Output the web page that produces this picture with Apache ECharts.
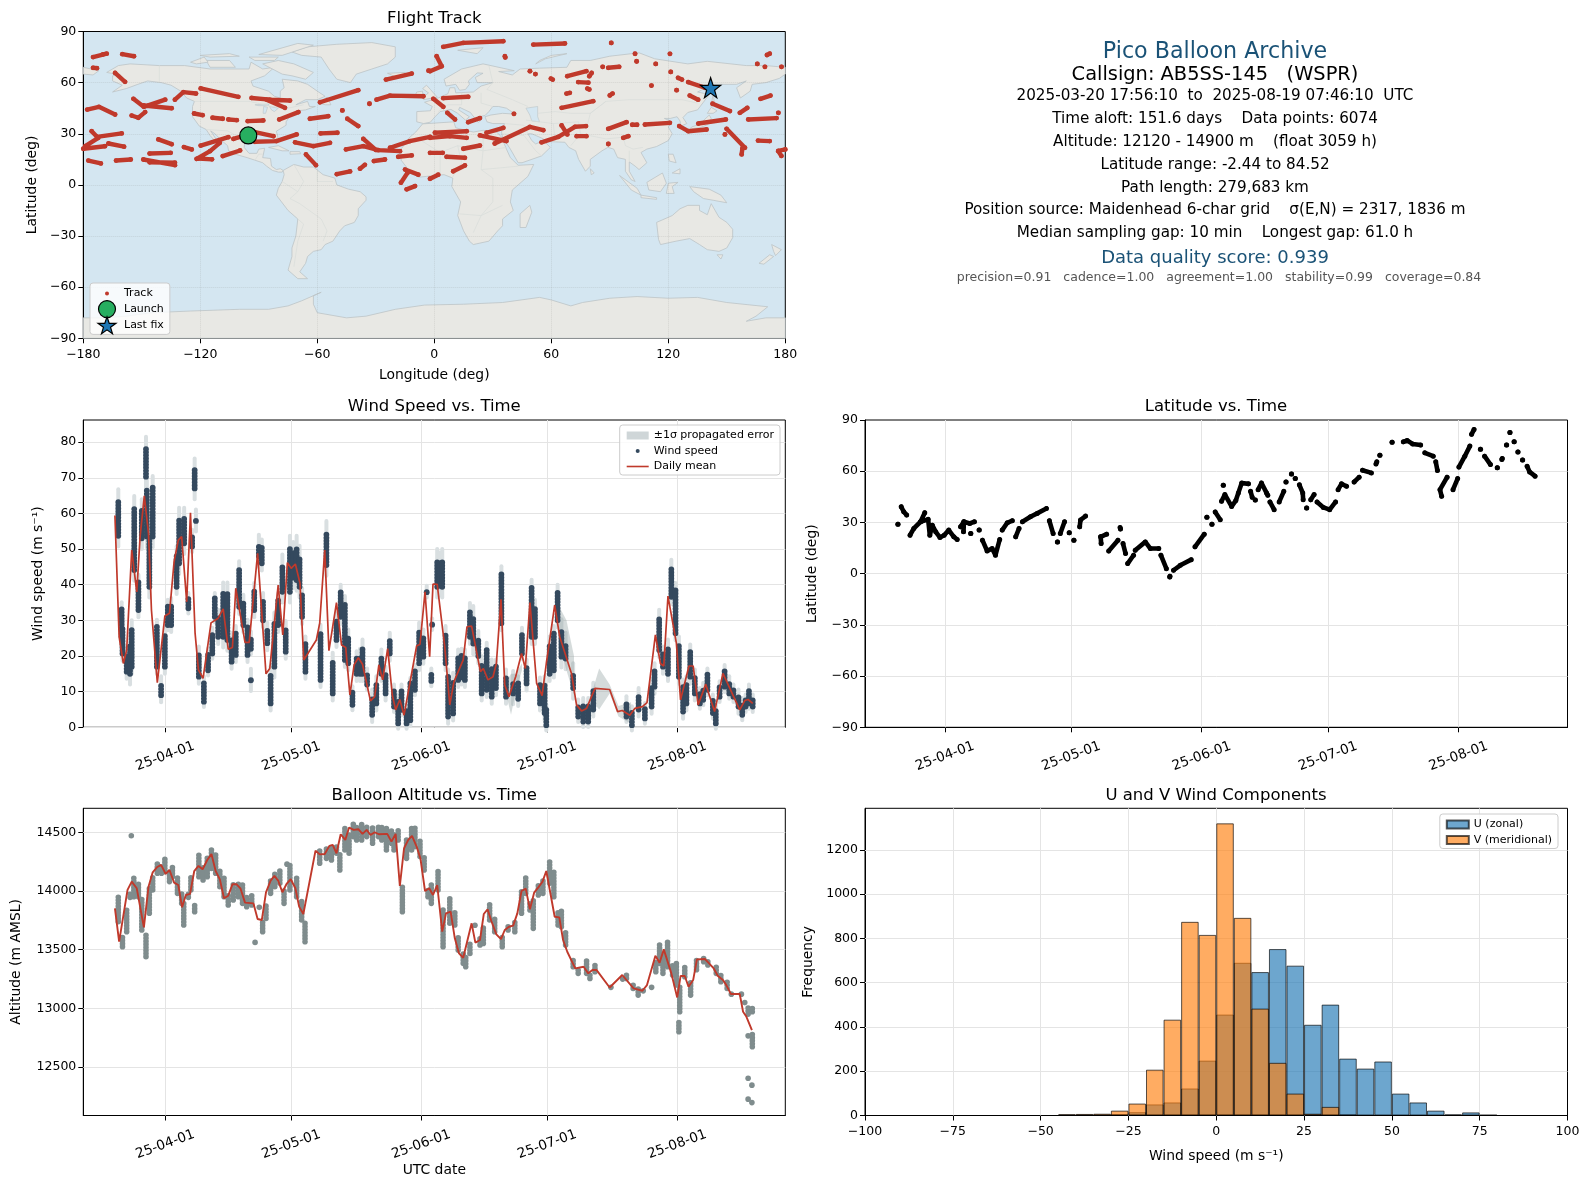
<!DOCTYPE html>
<html><head><meta charset="utf-8">
<style>html,body{margin:0;padding:0;background:#fff}#c{width:1589px;height:1189px}</style>
<script src="https://cdn.jsdelivr.net/npm/echarts@6/dist/echarts.min.js"></script>
</head><body><div id="c"></div>
<script>
// ---------- DATA ----------
const monthDays=[31,61,92,122,153]; // days since 2025-03-01
const monthLabels=['25-04-01','25-05-01','25-06-01','25-07-01','25-08-01'];
const lonTicks=[-180,-120,-60,0,60,120,180];
const latTicks=[-90,-60,-30,0,30,60,90];
const windTicks=[0,10,20,30,40,50,60,70,80];
const altTicks=[12500,13000,13500,14000,14500];
const histXTicks=[-100,-75,-50,-25,0,25,50,75,100];
const histYTicks=[0,200,400,600,800,1000,1200];
const infoLines=[
 ['Pico Balloon Archive',1215,52.5,22.2,'#1a5276'],
 ['Callsign: AB5SS-145   (WSPR)',1215,74.5,19.4,'#000'],
 ['2025-03-20 17:56:10  to  2025-08-19 07:46:10  UTC',1215,96,15.2,'#000'],
 ['Time aloft: 151.6 days    Data points: 6074',1215,119,15.2,'#000'],
 ['Altitude: 12120 - 14900 m    (float 3059 h)',1215,142.5,15.2,'#000'],
 ['Latitude range: -2.44 to 84.52',1215,165,15.2,'#000'],
 ['Path length: 279,683 km',1215,188,15.2,'#000'],
 ['Position source: Maidenhead 6-char grid    σ(E,N) = 2317, 1836 m',1215,210.5,15.2,'#000'],
 ['Median sampling gap: 10 min    Longest gap: 61.0 h',1215,233.5,15.2,'#000'],
 ['Data quality score: 0.939',1215,258,18,'#1a5276'],
 ['precision=0.91   cadence=1.00   agreement=1.00   stability=0.99   coverage=0.84',1219,278,12.5,'#555']
];
const landPolygons=[
 [[-168,66],[-162,70],[-156,71],[-141,70],[-128,70],[-115,68],[-108,68],[-95,68],[-94,72],[-88,68],[-82,69],[-87,64],[-94,61],[-93,58],[-85,55],[-82,52],[-79,51],[-79,55],[-77,57],[-78,62],[-70,61],[-65,59],[-60,55],[-56,52],[-60,50],[-66,50],[-71,47],[-65,49],[-64,46],[-61,46],[-66,44],[-70,43.5],[-71,41.5],[-74,40.5],[-76,37],[-76,35],[-81,31.5],[-80,27],[-80.5,25],[-82,27],[-83,29.5],[-85,30],[-89,30],[-94,29.5],[-97,27.5],[-97.5,22],[-95,18.5],[-91,18.5],[-90,21],[-87,21.5],[-88,16],[-84,15.5],[-83.5,11],[-81,9],[-79,9.5],[-77.5,8.5],[-78,7.5],[-80,7.5],[-83,8.5],[-86,11],[-88,13],[-92,14.5],[-96,16],[-102,18],[-105.5,20],[-106,23],[-109,26],[-112.5,30],[-114.7,31.7],[-112,27],[-110,23],[-112,25],[-115,29],[-117,32.5],[-120.5,34.5],[-124,40],[-124,46],[-123,49],[-127,51],[-130,55],[-135,58.5],[-140,60],[-147,61],[-152,59],[-158,56.5],[-165,54.5],[-160,58.5],[-165,61],[-165,64],[-161,64.5]],
 [[-73,78],[-65,81],[-50,82.5],[-32,83.5],[-20,81],[-20,75],[-24,71],[-32,68],[-40,65],[-43,60],[-50,62],[-54,68],[-58,75],[-68,76]],
 [[-80,73],[-72,71],[-62,66],[-66,62],[-73,64],[-78,65],[-88,71]],
 [[-117,73],[-105,73],[-102,69],[-115,69]],
 [[-90,76.5],[-70,83],[-62,82],[-78,76]],
 [[-125,72],[-118,75],[-116,72],[-122,71]],
 [[-95,75],[-80,75],[-82,73],[-92,73]],
 [[-120,76],[-105,77],[-100,75.5],[-115,75]],
 [[-59,48],[-55,51.5],[-53,47],[-56,47]],
 [[-85,22],[-80,23],[-74.5,20],[-78,20]],
 [[-74,19.5],[-69,19.5],[-68.5,18.3],[-74,18]],
 [[-77.5,8.5],[-72,12],[-67,10.5],[-62,10.5],[-57,6],[-51,4],[-50,0],[-44,-2.5],[-38,-4],[-35,-7],[-35,-9],[-39,-14],[-39,-18],[-41,-22],[-46,-24],[-48.5,-27],[-52,-33],[-56,-35],[-58,-38],[-62,-39],[-65,-42],[-66,-46],[-69,-51],[-65,-55],[-70,-55],[-75,-50],[-73,-42],[-73,-37],[-71,-30],[-70,-20],[-75,-15],[-81,-6],[-80,-2],[-78,2],[-77,6]],
 [[-6,35.8],[10,37],[11,33.5],[20,31],[25,32],[32,31],[34.5,28],[37,21],[39,16],[43,11.5],[51,12],[48,5],[40,-3],[39,-10],[40.5,-15],[35,-20],[35,-24],[32.5,-27],[28,-33],[20,-35],[18,-33],[15,-27],[12,-18],[13.5,-10],[9,-1],[9.5,4],[5,6],[-4,5],[-8,4.5],[-13,8.5],[-17,14.5],[-17,21],[-13,27.5],[-9.5,31]],
 [[-9,37],[-9,43],[-2,43.5],[-1,46],[-5,48.5],[2,51],[7,53.5],[8,57],[10.5,57],[11,54],[20,54.5],[24,58],[30,60],[22,60],[21,63],[25,65.5],[22,65.7],[17.5,61],[18,59],[16,56],[13,55.5],[11,59],[6,58],[5,62],[14,68],[25,71],[41,67],[33,66.5],[40,64.5],[44,68],[54,68.5],[68,69],[70,73],[80,73],[90,75.5],[105,77.5],[113,74],[130,71],[140,72.5],[160,70],[170,70],[180,69],[180,65],[177,62.5],[170,60],[163,59],[162,55],[157,51],[155,57],[160,61],[155,59],[143,59],[135,54.5],[141,53],[135,44],[130,42.5],[127.5,39.5],[129.5,36],[126.5,34.5],[126,37.5],[124.5,40],[121,39],[118,39],[122,37],[120,34],[122,30],[120,26],[114,22.5],[109,21],[106,19],[109,13],[105,9],[103,11],[100,13.5],[100,8],[103,2],[101,3],[98,8],[98,15],[94,16],[92,21],[89,22],[86,20],[80,15],[80,11],[77.5,8],[74,15],[72.5,20],[69,22],[67,25],[57,25.5],[56,27],[50,30],[48,30],[50,26],[52,24],[56,26],[59.5,22],[55,17],[45,13],[43,13],[39,21],[35,28],[34.5,31],[36,36],[30,36],[27,37],[26,40],[29,41],[35,42],[41.5,41.5],[37,45],[33,46],[30,46],[28,43],[26,40.7],[23,40],[24,38],[22.5,36.7],[19.5,41],[18.5,42.5],[13,45.5],[12.5,44],[18,40],[16,38],[12,42],[8.5,44.3],[3,43],[0,39.5],[-2,36.8],[-5.5,36]],
 [[-180,69],[-172,67],[-175,64.5],[-180,65]],
 [[-5.5,50],[1.5,51.5],[-2,56],[-4,58.5],[-6,56.5],[-3,54],[-5,52]],
 [[-10,52],[-6,52],[-6,55],[-9,54.5]],
 [[-24,65.5],[-15,66],[-14,64.5],[-20,63.5]],
 [[12,79],[25,80.5],[22,77]],
 [[52,71],[57,74],[68,77],[60,76],[54,73]],
 [[130,31.5],[132,34],[136,35.5],[141,41],[142,39],[140.5,35.5],[136,33.5],[132,33]],
 [[140,42],[142,45.5],[145,43.5],[143,42]],
 [[142,46],[143,54],[143.5,49]],
 [[120,18],[122.5,18],[124,13],[120.5,14]],
 [[122,7],[126,9.5],[126,6.5]],
 [[95,5.5],[104,-2],[106,-6],[101,-3]],
 [[106,-6],[114,-7.5],[114,-8.5],[106,-7.5]],
 [[109,1.5],[117,7],[119,1],[116,-4],[110,-3]],
 [[119,-5],[120,1],[125,1.5],[122,-1],[123,-5]],
 [[131,-1],[141,-2.5],[147,-6],[150,-10.5],[143,-9],[138,-8],[133,-4]],
 [[114,-22],[122,-18],[126,-14],[130,-12],[136,-12],[136,-15],[140,-17.5],[142,-11],[146,-19],[150,-22],[153,-26],[153,-31],[150,-37],[146,-39],[140,-38],[136,-35],[131,-31.5],[124,-33],[116,-35],[115,-32]],
 [[145,-41],[148,-41],[147,-43.5]],
 [[173,-35],[178,-38],[175,-41.5],[174,-39]],
 [[172,-41],[174,-42],[169,-46.5],[166.5,-46]],
 [[49,-12],[50,-16],[47,-25],[44,-25],[44,-17]],
 [[80,9.5],[82,7],[80.5,6]],
 [[-180,-90],[-180,-78],[-170,-78],[-158,-77],[-145,-75],[-125,-74],[-100,-73],[-85,-73],[-75,-71],[-68,-68],[-58,-63],[-62,-65],[-62,-70],[-60,-75],[-45,-78],[-35,-77],[-20,-73],[-5,-70.5],[15,-70],[35,-69],[54,-66],[60,-67.5],[70,-71],[76,-69],[90,-66.5],[104,-65.5],[120,-66.5],[135,-66],[150,-69],[171,-71.5],[165,-77],[160,-80],[170,-78],[180,-78],[180,-90]]
];
const lakePolygons=[
 [[47,45],[53,46],[53,40],[54,37],[50,37.5],[49,41]],
 [[-92,47],[-85,47.5],[-85,46.5],[-90,46.5]],
 [[-87.5,46],[-85.5,45.5],[-86.5,42],[-87.8,42]],
 [[-84.5,46],[-80,45],[-82,43],[-83.5,44]]
];
const borderLines=[
 [[-123,49],[-95,49],[-83,46],[-75,45],[-67,47]],[[-141,70],[-141,60]],[[-117,32.5],[-106,31.7],[-97,26]],
 [[-92,14.5],[-90,18],[-88,18]],[[-72,12],[-67,2],[-70,-4],[-74,-8],[-69,-11],[-58,-20],[-55,-27],[-57,-33]],[[-70,-20],[-67,-23],[-70,-33],[-72,-48]],
 [[-60,8],[-60,2],[-52,2]],[[-78,2],[-70,-4]],
 [[-13,27],[-8,27],[3,19],[12,23],[25,20],[37,22]],[[25,32],[25,20],[24,9],[30,4],[30,-10],[24,-18],[20,-28]],[[3,19],[3,6]],[[12,23],[14,13],[9,4]],[[24,9],[34,10],[43,11]],[[13,-17],[24,-18],[35,-12]],
 [[24,54],[24,48],[30,46]],[[14,54],[14,47],[7,47],[2,43]],[[28,70],[30,60],[27,56],[40,50],[48,46]],[[53,42],[62,43],[70,42],[80,42],[88,49],[100,50],[118,50],[127,50],[135,48]],[[47,38],[61,36],[62,25]],[[61,36],[74,37],[75,30],[70,23]],[[75,30],[88,27],[97,28],[98,23],[102,21],[107,22]],[[88,49],[80,42],[78,33]],[[36,36],[46,35],[48,30]],[[35,30],[46,29],[52,20],[55,17]],[[100,20],[100,14]]
];
const trackSegments=[
 [[-175,75],[-170,76.5],[-168,77]],[[-160,76.7],[-154,75.5]],[[-175,68.7],[-173,68.5]],[[-163.7,65.7],[-158.6,60.5]],
 [[-178,44.2],[-172,45.8],[-163.7,41.3]],[[-154.3,50.5],[-149,45.8],[-138,50]],[[-149,46.6],[-134.7,45]],[[-155.2,40.7],[-151.8,39.4],[-148.3,42.7]],
 [[-133,50],[-128.7,54.4],[-122.2,53.6]],[[-119.8,56.6],[-100.5,51.7]],[[-93.7,51],[-84.3,50],[-74,49.5]],[[-86,50],[-76.6,45.2]],
 [[-123.2,41.9],[-118.8,40.9]],[[-113.7,39.4],[-108.5,38.8]],[[-105.6,38.4],[-101.3,38]],[[-95.7,37.4],[-87.7,37.8]],[[-79.5,38.4],[-69.7,42.7]],[[-63.8,38.8],[-54.4,40.3]],
 [[-58.6,48.5],[-39,55.6]],[[-33.3,47.6],[-33.2,47.6]],[[-29.6,50],[-22.7,52.4],[-5.6,52]],[[-24.8,61.8],[-11.6,65.3]],[[-3,67],[-2.8,67]],[[-47.2,43.7],[-47.1,43.7]],[[-44.6,38.8],[-39,34.5]],
 [[-175.7,31.5],[-173,28.2],[-160.3,30.2]],[[-180,21.2],[-168.9,22.7]],[[-179,22.7],[-172.3,27.6]],[[-167.1,24.3],[-159.1,22.4]],[[-177.4,14.3],[-171,12.6]],[[-163.2,14.3],[-155.7,14.9]],
 [[-149.2,14.9],[-133,11.6]],[[-146,13.3],[-133,13]],[[-146,18.4],[-135.2,18.8]],[[-141.5,26.7],[-134.7,23.9]],[[-128.4,22.2],[-124.4,20.8]],[[-119.8,23.1],[-105.6,28]],[[-121.9,15.3],[-115,19.8],[-110,24.7]],[[-121,15.5],[-114,15]],[[-108.5,16.9],[-99.6,20.2]],
 [[-103,27],[-97,29]],[[-92,31],[-82.5,28.6]],[[-92,25.3],[-81,25.7],[-70.6,29.6]],[[-71.4,25],[-62,22.7],[-53.5,24.7]],[[-58.3,30.2],[-49.7,30.6]],[[-65.8,17.9],[-60.7,11.6]],[[-50,6.3],[-43.2,7.9]],[[-38.1,9.5],[-35.6,11.8]],[[-31,14],[-25.3,14.9]],
 [[-45.3,20.8],[-36.4,22.7],[-28.7,20.4],[-17.6,19.8]],[[-36.4,27],[-30,20.5]],[[-22.7,21.8],[-12.5,25.7],[-2.2,28.2]],[[-18.5,16.5],[-11.6,17.3]],[[-15,9],[-8.2,6]],[[-17.1,1.3],[-13.8,7]],[[-14.2,-2.6],[-9.9,-0.7]],
 [[4.6,81],[14.9,83.3],[35.4,84.3]],[[50.8,82.3],[67,83]],[[36.2,75.5],[36.4,74.8]],[[90.7,83.3],[90.8,83.3]],[[102.9,77],[103,76.9]],[[103.7,72.6],[103.8,72.4]],[[120.8,76.9],[120.9,76.9]],[[113.5,71],[113.6,71]],
 [[172,77],[170.6,76.2]],[[165.6,71],[165.7,71]],[[169.5,69.3],[169.6,69.3]],[[178,69.3],[178.1,69.3]],[[86.3,69.3],[86.4,69.3]],[[89.2,68.7],[94.8,69.3]],[[49,66.7],[49.1,66.7]],[[51.8,65],[51.9,65]],[[60.7,61.8],[59.8,62.4]],
 [[68.2,63.8],[78,66.7]],[[80.7,65.7],[79.5,63.8]],[[73.8,60.3],[79,60]],[[79.5,56],[78.5,56.5]],[[67.8,53.6],[69.5,54]],[[91.4,53.6],[90,52.5]],[[111.3,58.3],[111.4,58.3]],
 [[121.2,66.3],[121.3,66.3]],[[125,62.8],[127,61.8]],[[130.2,60.3],[138.8,57]],[[124.2,55.6],[124.3,55.6]],[[131,52.4],[135.3,50]],[[142.7,47.6],[151.6,43.3]],[[156.7,42.3],[160.5,45.2]],[[167.3,50.5],[172.4,52.4]],[[161,38.4],[175.5,39.2]],[[176.4,42.3],[176.5,42.3]],
 [[135.4,36],[149.5,38.4]],[[125.6,34.5],[130.2,31.5],[139.6,32.5]],[[149,29.6],[149.1,29.6]],[[149.9,32.9],[159.3,21.8]],[[158,21.5],[157.6,17.9]],[[166,26],[172,25.7]],[[176.4,19.8],[178,17]],[[176.4,20],[180,20.8]],
 [[89.2,24],[89.3,24]],[[96.9,27.6],[99.5,28.6]],[[89.2,32.9],[98.6,36.8]],[[101.5,35.3],[104,35.3]],[[108,35.4],[120.8,36.4]],[[65.3,45.2],[81.5,49.1]],[[65.3,34.9],[68.2,29.6]],[[55,25],[63.6,28.2],[72.1,34.1],[77.8,34.5]],[[73,28.6],[78,28.6]],
 [[31,24.3],[49,34],[55.9,32.1]],[[23.4,29],[37,25.7]],[[26.8,30.6],[35.4,33.5]],[[-2.2,27.6],[8,28.6],[16.6,27.6]],[[0.3,30.6],[16.6,31.5]],[[-2.2,18.8],[4.3,18.8]],[[14.9,21.2],[23.4,23.1]],[[6.3,16.5],[15.7,15.9]],[[9.7,8],[15.7,11.4]],[[-2.2,3.6],[2,6]],
 [[17.4,36.8],[23.4,39.2]],[[6.7,42.3],[10.6,38.4]],[[-0.5,50.5],[4.6,45.8]],[[4.6,50.9],[17.4,51.7]],[[40.8,41.7],[40.9,41.7]],[[-2.2,66.7],[3.8,69.6],[1.2,75.5]]
];
const launchPoint=[-95.4,29];
const lastFixPoint=[141.7,57];
// wind columns: day since 1 Mar, low, high, sigma
const windColumns=[
[19.8,53.7,63.8,3],[20.6,25.4,33.1,2],[20.8,20.7,28.2,2],[21.8,15.6,20.7,2],[22.6,15,23.5,3],[23,17,28,2],[23.6,44.1,61.9,3],[24.6,32.9,40.8,2],[25.4,53,61,3],[26.4,70.3,78,3.5],[26.6,53.5,66.6,3],[27.2,39.4,53.5,3],[28,53.5,67.5,3],[29,17,28.2,2],[30,9,12.3,2],[30.9,17,26.4,2],[31.6,28.7,34.3,1.5],[32.4,28.7,34.3,2],[33.7,39.4,48.8,2],[34.3,46,58.6,3],[35.5,51.6,58.6,3],[36.5,33.4,36.2,1.5],[37.4,50.7,53.9,1.5],[38,67,72.4,3],[38.3,57.9,58.1,3],[39,14.2,20.7,2],[40.2,7.2,12.8,1.5],[41.2,16,20.7,1.5],[42.2,20.7,26.4,1.5],[42.8,31,36.2,1.5],[43.6,25.4,31,2],[44.8,25.4,37.6,3],[45.8,24.5,37.6,3],[46.8,18.4,24.5,2],[47.8,20.3,26.4,2],[48.6,33.8,44.6,2],[49.6,28.7,35.2,2],[50.6,20.3,28.2,2],[51.4,22,25.4,1.5],[51.4,13.2,13.4,3],[52.2,32.9,38.5,2],[53.3,48,51,3],[54,46,50.7,2],[54.3,30,35.7,2],[55.3,23.6,27.3,2],[56.1,6.7,15.1,2],[57,17,29.2,3],[57.9,28.7,35.7,2],[58.9,38,45.5,3],[59.7,21.2,27.8,2],[60.7,38,50.7,3],[61.5,42,49,3],[62.3,41.3,50.7,3],[63,39.4,47.9,3],[63.6,31,37,2],[64.4,15.6,23.5,2],[68,13.3,26.8,2],[69.4,45.5,54.9,3],[70.9,9.5,18.9,2],[71.8,24.5,30,2],[72.8,31,38,2],[73.8,18.9,34.8,2],[74.6,18,25.4,2],[75.6,6.3,10,1.5],[76.6,15,19.3,2],[77.4,15,20,2],[78,15,22.6,2],[79.1,12,15,1.5],[80.3,3.5,8.6,2],[81.3,6.7,12.3,2],[82.5,15,19.8,2],[83.5,9.5,15,2],[84.5,20.7,24.5,2],[85.5,5.8,10.5,1.5],[86.5,1.1,7.7,1.5],[87.3,4.9,10.5,1.5],[88.5,1.1,4.9,1.5],[89.4,2,12.3,1.5],[90.5,10.5,16,1.5],[91.5,18,27.3,2],[92.5,19.8,25.4,2],[93.3,37.9,38.2,1.5],
[94.4,13,15,1.5],[94.6,28.8,29,1.5],[95.8,39.4,47,3],[96.4,40,46,3],[97,39.4,47,3],[97.8,18,26.4,2],[98.4,3,14.2,2],[99.6,3.9,13.3,2],[100.8,13.3,19.8,2],[101.6,14,20,2],[102.4,13.3,19.8,2],[103.6,25.4,32.9,2],[104.4,23.5,31,3],[105.6,20,25,2],[106.4,9.5,18,2],[107.6,10.5,21.7,2],[108.8,8.6,17,2],[109.8,11,17,2],[111.1,29.2,43.2,2],[112.2,8.6,14.2,2],[113.9,9.5,12.8,3],[115.1,8,12.3,2],[116,20.7,26.4,1.5],[117.1,12.3,17,2],[118.3,25.4,39.4,2],[119.1,25.4,33.8,2],[120.3,6.7,12,2],[121.4,4,12.3,2],[121.8,0.6,5,1.5],[122.6,15,23.5,2],[123.6,16,26.4,2],[124.5,30,38,2],[125.4,19.8,27.3,3],[126.4,19.3,23.5,3],[128.2,11,15,3],[129.4,3,6.3,1.5],[130.6,1.6,6.7,1.5],[131.8,1.6,6.7,1.5],[133,5,10.5,2],[140.9,3,7.2,1.5],[142.2,0.6,4.4,1.5],[143.8,5,9,2],[145.3,2.5,5.3,1.5],[146.9,5.8,11.4,2],[147.6,11.4,16,2],[148.7,21.7,31,2],[149.6,17,20.7,2],[150.8,15,22.6,2],[151.6,36.6,45,2],[152.6,26.4,38.5,2],[153.4,14.2,23.5,2],[154.4,4.4,11.4,2],[155.2,6.7,12.3,2],[156.1,14.2,21.2,2],[157.2,9.5,14.2,2],[158.4,6.7,9.5,1.5],[159.2,7.7,11,1.5],[160.2,10.5,15,1.5],[161.5,4,7.7,1.5],[162.2,1.1,4.9,1.5],[163.1,8.6,11.4,1.5],[164.3,11.4,16,1.5],[165.4,9.5,12.8,1.5],[166.4,8.6,10.5,1.5],[167.6,5.8,8.6,2],[168.5,3.5,6.7,1.5],[169.3,5.8,7.7,1.5],[170.1,6.7,10.5,1.5],[171,5.8,7.7,1.5]
];
// extra spread of the propagated error in sparse stretches: day, low, high
const bandPolygon=[[111.9,11,12],[113.4,3.5,15],[114.5,10,15],[116,16,18]];
const bandPolygon2=[[124.8,24,34],[126.6,16,30],[128.4,9,20]];
const bandPolygon3=[[133,7,11],[134.4,5,16.5],[136.9,9.5,12],[139,3,6],[142,1,7]];
const windMeanDays=[19,20,21,21.8,23,24.2,25,26,27,27.7,29.1,30.9,32,33.1,34.1,34.9,36.1,37,38.1,38.9,40,41.9,43.6,44.8,46,47,47.8,50,51,53,55,55.9,57.9,59,60.1,61,62,63.1,64,67,67.8,69,70,71.8,73,74,75,76,77,78,79.9,80.9,81.9,82.8,84,85.1,85.9,86.9,87.9,90.9,91.7,92.9,94,94.8,95.8,97.6,98.8,99.8,102,102.9,104,106.1,106.8,107.9,109.1,109.9,111,111.9,112.9,114.5,115.9,116.8,117.9,119.5,120.8,121.8,123.8,125,127.8,129,130.2,131.4,133.4,136.9,138.8,139.9,141.7,142.9,144.7,145.8,147.8,149,149.8,150.8,152.8,153.8,155.8,156.8,158,159.8,161.9,163.9,167.9,169.1,169.9,171];
const windMeanValues=[59.4,25.4,17.9,21.7,49.7,38,53.5,64.9,54.4,32.9,12.5,31.2,32,46.5,52.5,53.5,35.2,60.2,26.4,16.1,13.7,29.3,30.6,33.2,21.9,22.4,39,23.8,23.8,48.8,15,16.5,39.9,25.9,46.2,44.6,45.8,40.4,18.9,24.5,29.2,49.7,21.5,35,23.1,22.4,9.1,17.5,19.5,17.7,7.4,8.6,17.5,13.3,22.1,9.1,4.9,7.8,3.4,22.8,23.3,38,19.8,40.2,40.1,22.6,6.3,12.8,18.9,28.2,28.4,15.6,16.5,13.3,14.2,17.9,35.9,11.9,8.6,14.2,20.7,16.5,35,12.3,8.9,17.9,34.3,25.4,15.1,6.3,4.6,5.3,10.9,10.6,4.4,4.7,3.4,5.3,5.8,6.9,25.9,17.9,17.2,36.8,23.6,7.7,17.2,17.2,6.3,12.1,4.4,15.1,4.9,7.5,7.8,6.7];
const latSegments=[
[[19.8,29],[19.85,29]],[[20.6,39.2],[21.2,36.3],[21.9,34.3]],[[22.7,22.5],[23.6,26.5],[25.2,30.4],[26.2,35.7]],[[25.2,30.4],[27,31.8],[27.4,22.5],[28,28.4],[28.8,24.5],[29.8,21.2],[30.8,22.5],[31.9,25.5],[33.1,21.6],[33.9,20]],[[34.7,27.4],[35.5,30.4],[35.4,24.5]],[[35.5,30.4],[36.9,29.4],[38,30.4]],[[37.1,23.5],[37.15,23.5]],[[39.1,25.5],[39.15,25.5]],[[39.9,19.6],[41,13.3],[42.2,14.7],[43,10.8],[44,20]],[[44.6,25.5],[45.8,29.8],[47,31]],[[47.8,21.6],[48.6,26.5]],[[49.4,30.4],[51.3,33.3],[52.9,35.3],[55.1,38.2]],[[55.8,31],[56.7,23.5]],[[57.7,18.6],[57.75,18.6]],[[58.4,23.5],[59.4,30.4]],[[60.5,23.9],[60.55,23.9]],[[61.6,19.6],[61.65,19.6]],[[63,27.4],[63.2,31.4],[64.4,33.7]],
[[68,21.6],[68.1,17.6]],[[68,21.6],[69.4,23.1]],[[72.7,26.1],[72.6,27]],[[69.9,13.3],[72.1,19.6]],[[73.3,17.6],[73.9,11.8]],[[74.4,5.9],[75.8,10.8]],[[76.2,13.7],[78.6,18.6],[79.8,14.7],[81.8,14.7]],[[82.3,10.8],[83.6,2.9]],[[84.4,-2],[84.45,-1.5]],[[85.3,2],[86.9,4.9],[89.5,8.2]],[[90.4,15.7],[92.6,23.1]],[[93.2,33],[93.25,33]],[[94.4,29],[94.45,29]],[[95.2,36.1],[96.4,31.6]],[[97.1,51.8],[97.15,51.8]],[[96.7,42.4],[97.5,46.3],[99.1,39.4],[100.1,42.8],[100.7,47.3],[101.5,53.1],[103.1,52.6]],[[103.6,48.2],[104,44.7]],[[104.7,43.1],[104.75,43.1]],[[105.4,49.2],[106.2,53.1],[107.4,47.3],[107.7,45.9]],[[108.2,42],[109.2,37.5]],[[110.4,42],[111.5,48.2]],[[112,53.7],[112.05,53.7]],[[113.3,58.4],[113.35,58.4]],[[114.2,55.7],[114.25,55.7]],[[115.2,52],[116,47.3],[116.1,43.3]],[[116.9,38.4],[116.95,38.4]],[[117.9,43.3],[118.7,46.3]],[[119.4,42],[120.9,38.8],[122.4,37.5],[123.8,42]],[[124.4,49.2],[125.2,52.6],[126.4,51.2]],[[128.2,53.7],[129.4,56.5]],[[130.2,60.6],[132.3,59]],[[133.4,64.3],[133.6,65.5]],[[134.3,69.4],[134.35,69.4]],[[137.2,76.9],[137.25,76.9]],[[139.9,77.2],[140.8,78],[142.1,76],[144,75.3]],[[145,70.8],[147,68.8]],[[147.6,65.5],[148,60.4]],[[149,45.3],[148.6,49.2],[150.3,56.5]],[[151.7,49.2],[152.8,55.7]],[[153.1,62.4],[154.5,68.8],[155.7,74.7]],[[156.1,81.6],[156.7,84.5]],[[158.2,72.9],[158.25,72.9]],[[159.2,68.8],[160.6,63.9]],[[162.2,62],[162.25,62]],[[163.3,66.9],[163.4,67.5]],[[164.4,75.3],[164.45,75.3]],[[165.2,82.7],[165.25,82.7]],[[166.2,77.2],[166.25,77.2]],[[167.1,71.2],[167.15,71.2]],[[168.2,66.5],[168.25,66.5]],[[169.3,62.9],[169.9,59.6],[171.2,57.1]]
];
const altColumns=[
[19.8,13739,13958],[20.8,13526,13611],[21.8,13654,13844],[22.6,13946,13980],[22.9,14470,14482],[23.5,13952,14122],[24.6,13952,14065],[25.4,13668,13938],[26.4,13441,13640],[27.2,13810,14037],[28,14009,14122],[29.1,14151,14250],[30.1,14151,14222],[30.9,14165,14278],[32,14080,14165],[32.7,14122,14213],[33.9,13980,14128],[34.9,13895,13980],[35.4,13710,13895],[36.5,13946,13980],[37.1,14009,14122],[38,13824,13895],[39,14122,14307],[40,14094,14207],[41,14122,14293],[42,14193,14372],[43,14151,14307],[44,14037,14179],[45,13952,14122],[46,13881,13980],[47.2,13923,14065],[48.4,13952,14065],[49.4,13895,14051],[50.4,13867,13952],[51.6,13881,13980],[52.4,13562,13574],[53.4,13861,13873],[54.2,13654,13739],[55,13767,13895],[56.1,13980,14100],[57.1,14037,14151],[58.3,14065,14179],[59.3,13895,14009],[60,14228,14236],[60.7,14009,14222],[62.3,13952,14122],[63.5,13753,13923],[64.3,13568,13725],
[67.8,14236,14355],[69.4,14278,14364],[70.6,14264,14392],[71.8,14321,14378],[72.6,14179,14321],[73.8,14349,14548],[74.8,14321,14491],[75.8,14463,14591],[76.6,14435,14562],[77.8,14435,14576],[79,14463,14548],[80.4,14406,14548],[81.8,14463,14548],[82.6,14435,14548],[83.7,14349,14534],[84.9,14406,14520],[85.5,14349,14491],[86.5,14435,14534],[87.5,13824,14037],[88.5,14278,14435],[89.7,14349,14534],[90.5,14378,14543],[91.7,14293,14435],[92.7,14179,14307],[93.6,13952,14009],
[94.4,13895,14051],[96,14009,14179],[97.2,13526,13838],[98.8,13725,13952],[100,13710,13838],[100.8,13497,13611],[102,13384,13469],[102.6,13355,13440],[103.6,13469,13554],[104.8,13708,13730],[106,13540,13597],[106.8,13554,13696],[108.3,13753,13895],[109.5,13654,13781],[111.3,13526,13611],[112.7,13668,13696],[114.3,13654,13739],[115.9,13810,14009],[116.9,13980,14122],[117.9,13838,13895],[118.7,13682,13923],[119.9,13966,14051],[121,13980,14094],[122.6,14065,14250],[123.6,13952,14179],[124.6,13710,13838],[125.4,13696,13838],[126.4,13540,13654],[128.2,13355,13426],[129.4,13299,13341],[131.4,13299,13412],[132.2,13256,13299],[133.4,13313,13370],[137.2,13180,13190],[140,13250,13260],[140.9,13256,13304],[142.5,13171,13199],[143.7,13114,13185],[144.9,13150,13160],[146.9,13180,13190],[147.9,13313,13412],[148.8,13384,13540],[149.6,13299,13469],[150.7,13355,13568],[151.9,13285,13384],[152.8,13200,13384],[153.6,12972,13185],[153.4,12802,12887],[154.8,13270,13355],[156.2,13114,13242],[157.6,13330,13418],[159.3,13398,13449],[160.3,13370,13412],[162.3,13299,13355],[163.4,13228,13299],[164.9,13171,13242],[165.9,13122,13134],[168.3,13122,13134],[169.1,13050,13064],[169.9,12952,13015],[170.9,12972,13001],[169.9,12767,12779],[170.9,12674,12787],[169.9,12406,12418],[170.8,12347,12359],[169.9,12228,12240],[170.8,12199,12211]
];
const altMeanDays=[19,20,22,23,24.2,25.9,27,28,29,30,31.1,32,33.1,34.1,35,35.9,36.9,37.9,38.9,39.9,41,42,43,44,45,46,47,48,48.9,50,52,53,54,55,56.1,57,57.9,58.9,59.9,60.9,62,62.9,63.9,66.8,67.8,69,70.1,70.9,71.8,72.8,73.9,74.8,75.9,77,78,79,79.9,80.9,81.9,83.9,84.9,85.9,86.9,87.9,88.9,89.8,90.9,91.8,92.9,93.9,94.8,95.8,97,97.9,99,100,101,102,104,104.9,106,106.9,107.8,108.7,109.9,111,111.9,112.9,113.9,114.9,115.9,116.9,117.9,118.9,119.9,120.9,121.8,123.8,124.9,125.8,126.8,128.7,130.7,131.8,132.8,133.8,136.9,139.9,142.6,144.7,145.8,147.8,148.8,149.8,151.6,153,153.8,154.8,155.7,156.8,157.7,159.6,160.6,161.7,162.7,163.9,164.7,165.8,167.9,168.7,169.5,170.8];
const altMeanValues=[13852,13569,14009,14080,14023,13691,14037,14159,14202,14222,14145,14179,14071,14051,13861,13966,13975,14170,14213,14185,14264,14315,14170,14099,13938,13960,14057,14057,14023,13901,13895,13762,13753,13989,14088,14128,14088,13989,14060,14100,14023,13867,13804,14344,14312,14315,14384,14392,14321,14483,14435,14540,14520,14526,14486,14520,14477,14500,14483,14486,14420,14486,14043,14364,14435,14469,14378,14278,14000,14023,13966,14051,13654,13810,13824,13597,13469,13432,13725,13560,13583,13804,13844,13745,13631,13591,13668,13696,13705,13810,14000,14020,13844,13986,14031,14080,14170,13781,13776,13583,13483,13341,13355,13299,13327,13327,13179,13285,13171,13151,13199,13449,13390,13503,13299,13094,13276,13276,13185,13242,13418,13421,13384,13341,13276,13242,13199,13123,13123,12972,12929,12816];
const histCenters=[-42.5,-37.5,-32.5,-27.5,-22.5,-17.5,-12.5,-7.5,-2.5,2.5,7.5,12.5,17.5,22.5,27.5,32.5,37.5,42.5,47.5,52.5,57.5,62.5,67.5,72.5,77.5];
const vCounts=[6,7,8,22,54,207,433,875,816,1320,893,483,238,99,8,39,2,0,0,0,0,0,0,0,0];
const uCounts=[0,0,1,5,15,50,59,122,248,456,690,648,752,677,410,501,257,212,244,99,59,22,5,14,3];

// ---------- HELPERS ----------
const FONT='DejaVu Sans';
const minus=v=>String(v).replace('-','\u2212');
const GRIDS=[
 {left:83.3,top:31.5,width:702,height:306.8},
 {left:83.3,top:420,width:702,height:307.3},
 {left:865,top:420,width:702.5,height:307.3},
 {left:83.3,top:808.3,width:702,height:307.2},
 {left:865,top:808.3,width:702.5,height:307.2}
];
const lineBlack={color:'#000',width:1};
function axis(dim,grid,min,max,ticks,fmt,name,gap,extra){
 const a={type:'value',gridIndex:grid,min,max,scale:true,
  axisLine:{show:true,onZero:false,lineStyle:lineBlack},
  axisTick:{show:true,length:5,lineStyle:lineBlack,customValues:ticks,inside:false},
  axisLabel:Object.assign({show:true,color:'#000',fontFamily:FONT,fontSize:12.5,margin:dim==='x'?10:7,customValues:ticks,formatter:fmt,hideOverlap:false},extra||{}),
  splitLine:{show:false},minorTick:{show:false},
  name:name||'',nameLocation:'middle',nameGap:gap||0,nameTextStyle:{color:'#000',fontFamily:FONT,fontSize:13.9}};
 if(dim==='y')a.nameRotate=90;
 return a;
}
const dayFmt=v=>monthLabels[monthDays.indexOf(v)]||'';
const rot={rotate:20,align:'center',verticalAlign:'middle',margin:29,fontSize:13.6};
function gridLines(i,xs,ys,color,type,z){
 return {type:'line',xAxisIndex:i,yAxisIndex:i,data:[],z,silent:true,
  markLine:{silent:true,z,symbol:'none',animation:false,label:{show:false},emphasis:{disabled:true},
   lineStyle:{color,width:1,type},
   data:[...xs.map(v=>({xAxis:v})),...ys.map(v=>({yAxis:v}))]}};
}
function flatten(segs){const o=[];segs.forEach(s=>{s.forEach(p=>o.push(p));o.push([NaN,NaN]);});return o;}
function columnRender(color,width,withErr,dash){
 return (p,api)=>{
  const d=api.value(0),lo=api.value(1),hi=api.value(2),e=withErr?api.value(3):0;
  const a=api.coord([d,lo-e]),b=api.coord([d,hi+e]);
  const style={stroke:color,lineWidth:width,lineCap:'round'};
  if(dash)style.lineDash=dash;
  return {type:'line',shape:{x1:a[0],y1:a[1],x2:b[0],y2:b[1]},style};
 };
}
function polyRender(polys,fill,stroke,width){
 return (p,api)=>({type:'polygon',shape:{points:polys[api.value(0)].map(q=>api.coord(q))},style:{fill,stroke,lineWidth:width}});
}
const BAND='rgba(149,165,166,0.4)';
function bandRender(){return (p,api)=>{
 const poly=[bandPolygon,bandPolygon2,bandPolygon3][api.value(0)];
 const pts=poly.map(r=>api.coord([r[0],r[2]])).concat(poly.slice().reverse().map(r=>api.coord([r[0],r[1]])));
 return {type:'polygon',shape:{points:pts},style:{fill:BAND,stroke:'none'}};
};}
const STAR='path://M10 0L12.4 7 19.6 7 13.8 11.3 15.9 18.2 10 14 4.1 18.2 6.2 11.3 .4 7 7.6 7Z';
const dotIcon=(w,h,r)=>`path://M0 0L0 0M${w} ${h}L${w} ${h}M${w/2-r} ${h/2}a${r} ${r} 0 1 0 ${2*r} 0a${r} ${r} 0 1 0 ${-2*r} 0Z`;
const lineIcon=(w,h,t)=>`path://M0 0L0 0M${w} ${h}L${w} ${h}M0 ${h/2-t/2}H${w}V${h/2+t/2}H0Z`;
const legendBase={orient:'vertical',selectedMode:false,z:20,backgroundColor:'rgba(255,255,255,0.8)',borderColor:'#ccc',borderWidth:1,borderRadius:3,
 textStyle:{color:'#000',fontFamily:FONT,fontSize:11}};
const panelTitle=(text,cx,top)=>({text,left:cx,top,padding:0,textAlign:'center',textStyle:{color:'#000',fontFamily:FONT,fontSize:16.5,fontWeight:'normal'}});
const RED='#c0392b';

const option={
 animation:false,backgroundColor:'#fff',
 title:[panelTitle('Flight Track',434.3,10),panelTitle('Wind Speed vs. Time',434.3,398),panelTitle('Latitude vs. Time',1216,398),panelTitle('Balloon Altitude vs. Time',434.3,787),panelTitle('U and V Wind Components',1216,787)],
 grid:GRIDS.map((g,i)=>Object.assign({show:true,borderColor:'#000',borderWidth:1,backgroundColor:i===0?'#d4e6f1':'transparent',containLabel:false},g)),
 xAxis:[
  axis('x',0,-180,180,lonTicks,minus,'Longitude (deg)',30),
  axis('x',1,11.46,178.76,monthDays,dayFmt,'',0,rot),
  axis('x',2,12,178.9,monthDays,dayFmt,'',0,rot),
  axis('x',3,11.46,178.76,monthDays,dayFmt,'UTC date',48,rot),
  axis('x',4,-100,100,histXTicks,minus,'Wind speed (m s\u207B\u00B9)',34)
 ],
 yAxis:[
  axis('y',0,-90,90,latTicks,minus,'Latitude (deg)',44),
  axis('y',1,0,86.2,windTicks,v=>String(v),'Wind speed (m s\u207B\u00B9)',38),
  axis('y',2,-90,90,latTicks,minus,'Latitude (deg)',46),
  axis('y',3,12089,14704,altTicks,v=>String(v),'Altitude (m AMSL)',60),
  axis('y',4,0,1388,histYTicks,v=>String(v),'Frequency',50)
 ],
 legend:[
  Object.assign({},legendBase,{left:90,top:283,itemWidth:24,itemHeight:17,itemGap:-2,padding:[2,6,0,5],
   data:[{name:'Track',icon:dotIcon(24,17,2),itemStyle:{color:RED}},{name:'Launch',icon:'circle',itemStyle:{color:'#27ae60',borderColor:'#000',borderWidth:1.2}},{name:'Last fix',icon:STAR,itemStyle:{color:'#1f77b4',borderColor:'#000',borderWidth:1.2}}]}),
  Object.assign({},legendBase,{right:1589-780,top:425,itemWidth:22,itemHeight:8,itemGap:4.5,padding:[5,6,3,7],
   data:[{name:'\u00B11\u03C3 propagated error',icon:'rect',itemStyle:{color:'#cfd6d8'}},{name:'Wind speed',icon:dotIcon(22,8,2),itemStyle:{color:'#34495e'}},{name:'Daily mean',icon:lineIcon(22,8,1.6),itemStyle:{color:RED}}]}),
  Object.assign({},legendBase,{right:1589-1558,top:814,itemWidth:22,itemHeight:8,itemGap:4.5,padding:[5,6,3,6],
   data:[{name:'U (zonal)',icon:'rect'},{name:'V (meridional)',icon:'rect'}]})
 ],
 graphic:{elements:infoLines.map(l=>({type:'text',x:l[1],y:l[2],silent:true,style:{text:l[0],textAlign:'center',textVerticalAlign:'middle',fontSize:l[3],fontFamily:FONT,fill:l[4]}}))},
 series:[
  // map
  {type:'custom',xAxisIndex:0,yAxisIndex:0,z:1,silent:true,data:landPolygons.map((_,i)=>[i]),encode:{x:-1,y:-1},renderItem:polyRender(landPolygons,'#e8e8e4','#bcc4c6',0.8)},
  {type:'custom',xAxisIndex:0,yAxisIndex:0,z:1,silent:true,data:lakePolygons.map((_,i)=>[i]),encode:{x:-1,y:-1},renderItem:polyRender(lakePolygons,'#d4e6f1','#bcc4c6',0.6)},
  {type:'custom',xAxisIndex:0,yAxisIndex:0,z:1,silent:true,data:borderLines.map((_,i)=>[i]),encode:{x:-1,y:-1},
   renderItem:(p,api)=>({type:'polyline',shape:{points:borderLines[api.value(0)].map(q=>api.coord(q))},style:{fill:'none',stroke:'#d9dcda',lineWidth:0.7}})},
  gridLines(0,lonTicks.slice(1,-1),latTicks.slice(1,-1),'rgba(120,120,120,0.18)','dotted',2),
  {type:'line',name:'Track path',xAxisIndex:0,yAxisIndex:0,z:3,silent:true,showSymbol:false,symbol:'none',data:flatten(trackSegments),lineStyle:{color:RED,width:4.4,cap:'round',join:'round'},clip:true},
  {type:'scatter',name:'Track',xAxisIndex:0,yAxisIndex:0,z:3,silent:true,symbolSize:4.8,itemStyle:{color:RED,opacity:1},data:trackSegments.flat(),clip:true},
  {type:'scatter',name:'Launch',xAxisIndex:0,yAxisIndex:0,z:4,silent:true,symbolSize:17,itemStyle:{color:'#27ae60',opacity:1,borderColor:'#000',borderWidth:1.2},data:[launchPoint]},
  {type:'scatter',name:'Last fix',xAxisIndex:0,yAxisIndex:0,z:4,silent:true,symbol:STAR,symbolSize:20,itemStyle:{color:'#1f77b4',opacity:1,borderColor:'#000',borderWidth:1.2},data:[lastFixPoint]},
  // wind
  gridLines(1,monthDays,windTicks,'#e4e4e4','solid',1),
  {type:'custom',name:'\u00B11\u03C3 propagated error',xAxisIndex:1,yAxisIndex:1,z:2,silent:true,itemStyle:{color:'#cfd6d8'},data:windColumns,encode:{x:0,y:[1,2,3]},renderItem:columnRender('#d9dfe1',4,true)},
  {type:'custom',xAxisIndex:1,yAxisIndex:1,z:2,silent:true,data:[[0],[1],[2]],encode:{x:-1,y:-1},renderItem:bandRender()},
  {type:'custom',name:'Wind speed',xAxisIndex:1,yAxisIndex:1,z:3,silent:true,itemStyle:{color:'#34495e'},data:windColumns,encode:{x:0,y:[1,2]},renderItem:columnRender('#34495e',5.8,false,[0.05,3])},
  {type:'line',name:'Daily mean',xAxisIndex:1,yAxisIndex:1,z:4,silent:true,symbol:'none',data:windMeanDays.map((d,i)=>[d,windMeanValues[i]]),lineStyle:{color:RED,width:1.7}},
  // latitude
  gridLines(2,monthDays,latTicks.slice(1,-1),'#e4e4e4','solid',1),
  {type:'line',name:'Latitude',xAxisIndex:2,yAxisIndex:2,z:3,silent:true,symbol:'none',data:flatten(latSegments),lineStyle:{color:'#000',width:4.6,cap:'round',join:'round'}},
  {type:'scatter',name:'Latitude points',xAxisIndex:2,yAxisIndex:2,z:3,silent:true,symbolSize:5,itemStyle:{color:'#000',opacity:1},data:latSegments.flat()},
  // altitude
  gridLines(3,monthDays,altTicks,'#e4e4e4','solid',1),
  {type:'custom',name:'Altitude',xAxisIndex:3,yAxisIndex:3,z:3,silent:true,data:altColumns,encode:{x:0,y:[1,2]},renderItem:columnRender('#7f8c8d',5.6,false,[0.05,3])},
  {type:'line',name:'Altitude daily mean',xAxisIndex:3,yAxisIndex:3,z:4,silent:true,symbol:'none',data:altMeanDays.map((d,i)=>[d,altMeanValues[i]]),lineStyle:{color:RED,width:1.9}},
  // histogram
  gridLines(4,histXTicks.slice(1,-1),histYTicks.slice(1),'#e4e4e4','solid',1),
  {type:'bar',name:'U (zonal)',xAxisIndex:4,yAxisIndex:4,z:2,silent:true,barWidth:17.55,barGap:'-100%',data:histCenters.map((c,i)=>[c,uCounts[i]]),itemStyle:{color:'#1f77b4',opacity:0.65,borderColor:'#000',borderWidth:1}},
  {type:'bar',name:'V (meridional)',xAxisIndex:4,yAxisIndex:4,z:3,silent:true,barWidth:17.55,barGap:'-100%',data:histCenters.map((c,i)=>[c,vCounts[i]]),itemStyle:{color:'#ff7f0e',opacity:0.65,borderColor:'#000',borderWidth:1}}
 ]
};
const chart=echarts.init(document.getElementById('c'));
chart.setOption(option);
</script></body></html>
